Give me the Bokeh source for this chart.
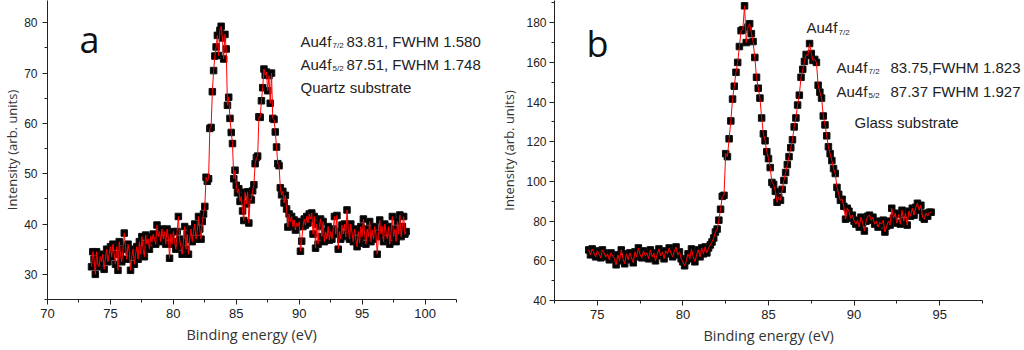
from bokeh.plotting import figure
from bokeh.layouts import row
from bokeh.models import Range1d, SingleIntervalTicker, Label, Title
from bokeh.embed import file_html
from bokeh.resources import INLINE

# ---------------- data: panel a (quartz substrate) ----------------
BE_START_A = 73.5
BE_STEP_A = 0.1
intensity_a = [
    31.5, 34.5, 33.0, 30.0, 34.5, 32.0,
    31.5, 33.5, 32.5, 34.0, 31.0, 33.0, 35.0, 32.5, 34.0, 35.5,
    33.5, 36.0, 34.0, 32.0, 35.5, 30.8, 36.5, 34.0, 32.5, 35.0,
    38.2, 35.5, 33.0, 36.0, 34.5, 30.8, 33.5, 35.0, 32.0, 34.0,
    35.5, 33.0, 36.5, 34.0, 37.5, 35.0, 33.5, 37.8, 36.0, 37.0,
    35.0, 37.5, 36.5, 38.0, 37.0, 36.0, 39.8, 37.5, 38.5, 36.5,
    39.0, 37.0, 38.5, 36.0, 39.0, 37.5, 33.2, 38.0, 36.0, 38.5,
    36.5, 35.0, 38.5, 41.5, 37.0, 35.5, 34.0, 36.5, 39.5, 35.0,
    38.0, 34.0, 37.0, 39.0, 36.5, 38.5, 40.0, 37.0, 38.5, 41.5,
    39.0, 37.0, 40.5, 42.0, 43.5, 49.3, 48.5, 49.0, 59.0, 59.2,
    66.3, 70.5, 73.4, 75.2, 77.5, 73.5, 78.5, 79.3, 77.0, 72.8,
    77.7, 74.8, 63.6, 65.2, 61.0, 58.2, 56.0, 49.0, 50.7, 47.7,
    46.2, 47.0, 44.5, 45.5, 42.6, 40.7, 46.3, 44.0, 46.4, 40.2,
    45.0, 44.8, 46.6, 47.8, 52.0, 53.2, 53.5, 61.3, 61.2, 64.5,
    67.1, 70.8, 69.6, 70.2, 66.5, 69.5, 64.0, 70.0, 61.0, 60.8,
    58.3, 55.3, 52.0, 51.6, 47.2, 45.8, 46.5, 44.2, 45.7, 43.0,
    39.4, 42.0, 40.5, 41.5, 39.5, 40.8, 38.8, 40.2, 39.5, 40.5,
    34.6, 36.6, 39.5, 41.0, 39.8, 41.5, 40.2, 42.0, 41.0, 42.2,
    38.0, 41.5, 35.2, 40.0, 36.0, 39.5, 41.0, 37.5, 40.5, 36.5,
    38.5, 37.0, 39.5, 36.8, 38.5, 37.0, 39.0, 41.5, 38.0, 41.7,
    35.0, 38.5, 37.0, 39.8, 38.0, 40.0, 37.5, 42.8, 39.0, 37.0,
    40.0, 38.2, 36.5, 39.0, 37.0, 35.5, 38.5, 36.2, 39.5, 37.5,
    41.0, 38.0, 36.0, 39.0, 37.5, 40.5, 36.5, 38.8, 37.0, 39.5,
    38.0, 34.0, 37.5, 40.8, 38.0, 39.5, 36.5, 40.0, 38.5, 37.0,
    39.5, 36.0, 38.5, 41.5, 37.5, 39.0, 36.5, 40.5, 38.0, 41.8,
    37.5, 39.5, 41.5, 38.0, 38.5,
]
energy_a = [round(BE_START_A + BE_STEP_A * i, 2) for i in range(len(intensity_a))]

# ---------------- data: panel b (glass substrate) ----------------
BE_START_B = 74.5
BE_STEP_B = 0.1
intensity_b = [
    65.5, 63.0, 66.0, 64.0, 62.0, 65.0,
    63.5, 61.5, 65.5, 64.0, 62.0, 63.5, 60.5, 64.0, 62.5, 61.0,
    58.0, 63.0, 60.0, 65.5, 61.0, 58.5, 63.5, 60.5, 64.0, 61.5,
    59.0, 64.5, 62.0, 66.5, 63.0, 61.5, 65.0, 62.5, 64.0, 61.0,
    65.5, 62.0, 64.0, 60.0, 63.5, 66.0, 62.5, 64.5, 61.0, 65.0,
    63.5, 66.5, 64.0, 62.0, 65.0, 67.0, 63.0, 64.5, 61.0, 59.5,
    57.5, 60.0, 63.5, 61.0, 66.0, 62.0, 59.5, 63.0, 65.5, 62.0,
    66.5, 63.5, 67.0, 64.0, 66.5, 68.0, 69.5, 71.5, 74.5, 76.0,
    80.5, 86.0, 92.5, 93.0, 114.0, 112.5, 121.5, 130.5, 141.5, 148.0,
    155.0, 160.0, 168.0, 176.0, 176.5, 188.5, 170.0, 177.8, 179.5, 174.5,
    170.5, 162.5, 152.5, 147.0, 142.0, 132.0, 124.0, 120.5, 115.0, 111.5,
    107.0, 99.5, 98.5, 95.0, 89.5, 92.0, 90.5, 96.0, 100.5, 104.5,
    108.5, 112.5, 117.0, 121.0, 127.5, 132.0, 138.5, 143.5, 152.5, 156.5,
    160.5, 164.0, 163.5, 169.5, 164.5, 161.0, 161.5, 160.0, 148.5, 145.0,
    142.0, 133.0, 128.5, 123.0, 117.5, 114.0, 110.5, 106.5, 104.0, 97.0,
    93.5, 90.5, 91.0, 87.5, 81.0, 86.5, 85.0, 81.5, 83.0, 80.0,
    78.5, 80.5, 77.0, 82.0, 79.0, 75.0, 80.0, 82.5, 83.0, 80.5,
    82.0, 78.5, 80.0, 77.0, 79.5, 78.5, 80.5, 74.5, 77.5, 80.0,
    78.0, 86.5, 81.5, 84.0, 79.0, 83.5, 78.5, 85.5, 80.0, 84.0,
    78.0, 85.0, 82.5, 86.5, 83.0, 87.0, 89.0, 85.5, 88.0, 82.0,
    81.0, 84.0, 82.5, 84.5, 84.5,
]
energy_b = [round(BE_START_B + BE_STEP_B * i, 2) for i in range(len(intensity_b))]

X_LABEL = "Binding energy (eV)"
Y_LABEL = "Intensity (arb. units)"

TICK_FONT = "Liberation Sans"
TITLE_FONT = "Open Sans"
ANN_FONT = "Liberation Sans"


def style(p, xint, yint, xbounds, xtitle_left):
    p.xgrid.visible = False
    p.ygrid.visible = False
    p.outline_line_color = None
    p.background_fill_color = "white"
    p.border_fill_color = "white"
    p.xaxis.ticker = SingleIntervalTicker(interval=xint, num_minor_ticks=2)
    p.yaxis.ticker = SingleIntervalTicker(interval=yint, num_minor_ticks=2)
    p.xaxis.bounds = xbounds
    for ax in (p.xaxis[0], p.yaxis[0]):
        ax.axis_line_color = "#222222"
        ax.major_tick_line_color = "#222222"
        ax.minor_tick_line_color = "#222222"
        ax.major_tick_out = 5
        ax.major_tick_in = 0
        ax.minor_tick_out = 3
        ax.minor_tick_in = 0
        ax.major_label_text_font = TICK_FONT
        ax.major_label_text_color = "#222222"
        ax.axis_label_text_font = TITLE_FONT
        ax.axis_label_text_font_style = "normal"
        ax.axis_label_text_color = "#333333"
    p.yaxis.axis_label_text_font_size = "13px"
    p.xaxis.major_label_text_font_size = "13px"
    p.yaxis.major_label_text_font_size = "12px"
    p.xaxis.major_label_standoff = 4
    # x-axis title: placed under the drawn axis (not the whole frame)
    p.add_layout(Title(text=X_LABEL, align="left", offset=xtitle_left,
                       standoff=4, text_font=TITLE_FONT, text_font_size="14.5px",
                       text_font_style="normal", text_color="#333333"), "below")


def label(p, x, y, text, size, font=ANN_FONT, color="#222222"):
    p.add_layout(Label(x=x, y=y, text=text, x_units="data", y_units="data",
                       text_font=font, text_font_size=size, text_color=color,
                       text_align="left", text_baseline="alphabetic"))


# ---------------- panel a ----------------
XA0, XA_AX_END, YA0, YA1 = 70, 102.5, 25, 84.43
PXA = 409 / 32.5            # pixels per eV in panel a
LA, FWA, FHA = 45, 450, 299
XA1 = XA0 + FWA / PXA
pa = figure(x_range=Range1d(XA0, XA1), y_range=Range1d(YA0, YA1),
            frame_width=FWA, frame_height=FHA,
            min_border_left=LA, min_border_right=0, min_border_top=0,
            min_border_bottom=51, toolbar_location=None, output_backend="svg",
            y_axis_label=Y_LABEL)
style(pa, 5, 10, (XA0, XA_AX_END), 139)
pa.yaxis.major_label_standoff = 5
pa.yaxis.axis_label_standoff = 0
pa.scatter(energy_a, intensity_a, marker="square", size=6.5,
           fill_color="black", line_color="#111111")
pa.line(energy_a, intensity_a, line_color="red", line_width=1)


def ax_(px):
    return XA0 + (px - LA) / PXA


def ay_(py):
    return YA1 - py * (YA1 - YA0) / FHA


label(pa, ax_(77), ay_(38.5), "a", "36px", font="Open Sans", color="#111111")
label(pa, ax_(298), ay_(41), "Au4f", "15px")
label(pa, ax_(330), ay_(45), "7/2", "8px")
label(pa, ax_(344), ay_(41), "83.81, FWHM 1.580", "15px")
label(pa, ax_(298), ay_(64), "Au4f", "15px")
label(pa, ax_(330), ay_(68), "5/2", "8px")
label(pa, ax_(344), ay_(64), "87.51, FWHM 1.748", "15px")
label(pa, ax_(298), ay_(87), "Quartz substrate", "15px")

# ---------------- panel b ----------------
XB0, XB_AX_END, YB0, YB1 = 72.5, 97.5, 40, 191.2
PXB = 428 / 25.0            # pixels per eV in panel b
LB, FWB, FHB = 57, 472, 300
XB1 = XB0 + FWB / PXB
pb = figure(x_range=Range1d(XB0, XB1), y_range=Range1d(YB0, YB1),
            frame_width=FWB, frame_height=FHB,
            min_border_left=LB, min_border_right=0, min_border_top=0,
            min_border_bottom=50, toolbar_location=None, output_backend="svg",
            y_axis_label=Y_LABEL)
style(pb, 5, 20, (XB0, XB_AX_END), 149)
pb.yaxis.major_label_standoff = 3
pb.yaxis.axis_label_standoff = 5
pb.scatter(energy_b, intensity_b, marker="square", size=6.5,
           fill_color="black", line_color="#111111")
pb.line(energy_b, intensity_b, line_color="red", line_width=1)

OFF_B = LA + FWA   # left edge of panel b on the page


def bx_(px):
    return XB0 + (px - OFF_B - LB) / PXB


def by_(py):
    return YB1 - py * (YB1 - YB0) / FHB


label(pb, bx_(584), by_(42.7), "b", "36px", font="Open Sans", color="#111111")
label(pb, bx_(804), by_(27), "Au4f", "15px")
label(pb, bx_(836), by_(32), "7/2", "8px")
label(pb, bx_(834), by_(67), "Au4f", "15px")
label(pb, bx_(866), by_(71), "7/2", "8px")
label(pb, bx_(888), by_(67), "83.75,FWHM 1.823", "15px")
label(pb, bx_(834), by_(91), "Au4f", "15px")
label(pb, bx_(866), by_(95), "5/2", "8px")
label(pb, bx_(888), by_(91), "87.37 FWHM 1.927", "15px")
label(pb, bx_(852), by_(122), "Glass substrate", "15px")

layout = row(pa, pb, spacing=0)
open("out.html", "w").write(file_html(layout, INLINE))
